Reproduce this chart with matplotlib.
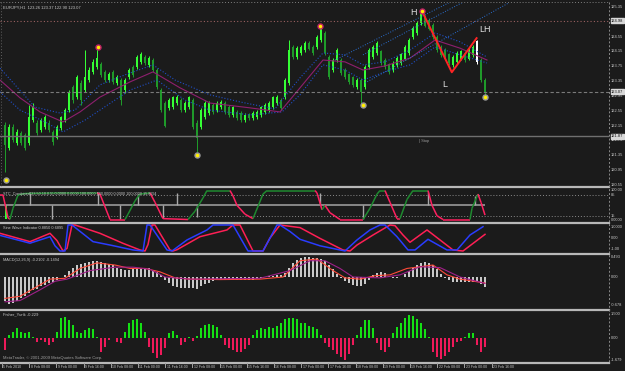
import matplotlib
matplotlib.use('Agg')
import matplotlib.pyplot as plt
import matplotlib.transforms as mtransforms
from matplotlib.lines import Line2D
from matplotlib.collections import LineCollection

plt.rcParams['font.family'] = ['Liberation Sans', 'DejaVu Sans']

# ---------------- data ----------------
O = [122.16,121.57,122.11,121.68,121.95,121.90,121.68,122.30,122.22,122.03,
     122.11,122.22,121.98,121.84,122.09,122.30,122.57,123.19,122.92,123.30,
     123.11,123.38,123.60,123.73,123.79,123.60,123.38,123.60,123.30,123.38,
     123.11,123.46,123.73,123.73,123.87,124.00,123.79,123.92,123.65,123.11,
     122.76,122.63,122.65,122.76,122.84,122.57,122.65,122.84,122.22,122.11,
     122.38,122.49,122.71,122.57,122.65,122.76,122.65,122.44,122.52,122.49,
     122.30,122.44,122.36,122.38,122.44,122.52,122.57,122.65,122.76,122.84,
     122.92,123.30,124.27,124.00,124.11,124.19,124.38,124.27,124.27,124.46,
     124.65,124.00,123.65,123.92,123.92,123.65,123.52,123.44,123.19,123.38,
     123.19,123.73,124.00,124.11,124.14,123.92,123.79,123.65,123.79,123.84,
     123.97,124.11,124.54,124.65,124.92,125.08,125.00,124.86,124.54,124.27,
     124.19,124.06,123.79,123.87,123.97,124.11,123.97,124.06,124.41,123.92,
     123.38]
C = [121.63,122.11,121.76,121.98,121.68,121.57,122.38,122.65,121.95,122.30,
     122.38,122.03,121.71,122.11,122.36,122.57,123.03,122.84,123.46,122.84,
     123.46,123.65,123.87,123.97,123.52,123.38,123.52,123.33,123.46,122.84,
     123.38,123.65,123.52,124.00,124.06,123.84,123.97,123.65,123.19,122.57,
     122.16,122.84,122.90,122.92,122.57,122.76,122.90,122.11,121.84,122.57,
     122.76,122.76,122.52,122.76,122.79,122.52,122.44,122.63,122.36,122.30,
     122.44,122.36,122.49,122.52,122.63,122.71,122.76,122.90,122.92,122.63,
     123.38,124.19,124.00,124.24,124.27,124.38,124.24,124.11,124.54,124.78,
     124.11,123.46,123.92,124.19,123.57,123.46,123.33,123.25,123.38,123.06,
     123.73,124.19,124.27,124.38,123.84,123.73,123.60,123.84,123.97,124.06,
     124.27,124.46,124.78,124.92,125.22,124.86,124.78,124.54,124.19,124.06,
     123.97,123.84,124.00,124.11,124.14,123.92,124.19,124.27,123.87,123.38,
     123.06]
H = [122.25,122.20,122.20,122.05,122.00,121.95,122.71,122.76,122.30,122.36,
     122.45,122.30,122.03,122.16,122.41,122.63,123.11,123.25,123.52,123.38,
     124.19,123.73,123.94,124.27,123.87,123.65,123.60,123.65,123.52,123.44,
     123.44,123.70,123.79,124.06,124.14,124.06,124.03,123.97,123.70,123.16,
     122.82,122.90,122.95,122.98,122.90,122.82,122.95,122.90,122.30,122.63,
     122.82,122.82,122.76,122.82,122.85,122.82,122.71,122.68,122.57,122.55,
     122.49,122.49,122.55,122.57,122.68,122.76,122.82,122.95,122.98,122.90,
     123.44,124.46,124.33,124.30,124.33,124.43,124.43,124.33,124.60,124.84,
     124.70,124.06,123.97,124.24,123.97,123.70,123.57,123.49,123.44,123.44,
     123.79,124.24,124.33,124.43,124.19,123.97,123.84,123.90,124.03,124.11,
     124.33,124.51,124.84,124.97,125.27,125.14,125.05,124.92,124.60,124.33,
     124.24,124.11,124.06,124.16,124.19,124.16,124.24,124.33,124.46,123.97,
     123.44]
L = [120.90,121.50,121.70,121.62,121.62,121.50,121.62,122.25,121.90,121.98,
     122.05,121.98,121.62,121.79,122.03,122.25,122.52,122.76,122.87,122.71,
     123.06,123.33,123.55,123.68,123.46,123.33,123.33,123.28,123.25,122.71,
     123.03,123.41,123.46,123.68,123.82,123.79,123.73,123.60,123.14,122.52,
     122.11,122.57,122.60,122.71,122.52,122.52,122.60,122.05,121.44,122.05,
     122.33,122.44,122.47,122.52,122.60,122.47,122.38,122.38,122.30,122.25,
     122.25,122.30,122.30,122.33,122.38,122.47,122.52,122.60,122.71,122.57,
     122.87,123.25,123.94,123.94,124.06,124.14,124.19,124.06,124.22,124.41,
     124.06,123.41,123.60,123.87,123.52,123.41,123.28,123.19,123.14,122.76,
     123.14,123.68,123.94,124.06,123.79,123.68,123.55,123.60,123.73,123.79,
     123.92,124.06,124.49,124.60,124.86,124.81,124.73,124.49,124.14,124.00,
     123.92,123.79,123.73,123.82,123.92,123.87,123.92,124.00,123.82,123.33,
     122.97]
highlight_bar = 118

swing_hi_t = [23.25, 78.75, 104.25]
swing_hi_p = [124.27, 124.84, 125.24]
swing_lo_t = [0.25, 48.0, 89.5, 120.0]
swing_lo_p = [120.68, 121.36, 122.72, 122.92]

zz_t = [104.25, 111.7, 117.9]
zz_p = [125.24, 123.59, 124.51]
zz_labels = ['H', 'L', 'LH']
zz_label_t = [101.2, 109.3, 118.6]
zz_label_p = [125.19, 123.27, 124.73]

ma_up_t = [-1.25,2.5,7.5,13.75,17.5,23.75,30,37,42.5,51.25,58.75,67.5,69.25,73.75,79.5,85,89.5,95,101.25,107.5,113.75,120.5]
ma_up_p = [123.70,123.25,122.65,122.49,122.57,123.25,123.52,123.79,123.38,122.98,122.79,122.60,122.84,123.44,124.11,124.06,123.79,123.87,124.19,124.65,124.41,124.00]
ma_mid_t = [-1.25,3.75,8.75,14.5,18.75,23.75,31.25,37,43.75,51.25,61.25,68.75,73.75,79.5,85,89.5,95,101.25,107.5,113.75,120.5]
ma_mid_p = [123.38,122.90,122.52,122.25,122.52,122.92,123.33,123.60,123.17,122.76,122.63,122.52,123.17,123.92,123.87,123.65,123.76,123.97,124.46,124.24,123.92]
ma_lo_t = [-1.25,3.75,10,14.5,20,23.75,31.25,38,45,51.25,61.25,69.25,73.75,79.5,85,89.5,95,101.25,107.5,113.75,120.5]
ma_lo_p = [123.06,122.57,122.25,121.98,122.30,122.57,123.11,123.38,122.84,122.57,122.44,122.52,122.98,123.79,123.65,123.38,123.60,123.79,124.27,124.06,123.84]

chan_t = [(82.5, 111.25), (89.5, 114.5), (90.0, 126.25)]
chan_p = [(123.92, 125.48), (124.06, 125.48), (123.30, 125.48)]

hline_p = [124.98, 123.07, 121.87]
price_ticks = [125.35,124.95,124.55,124.15,123.75,123.35,122.95,122.55,122.15,121.75,121.35,120.95,120.55]

stc_t = [-1.25,-0.5,0.75,1.25,2,3.25,5,13.75,23,23.75,26.25,30,30.75,32.5,33.75,36.25,37.5,39.5,45.75,47.5,
         49.5,50.5,56.25,57,58,60,62,62.75,64.5,65.5,77.5,78,79.25,80,81.25,83.75,89.5,91.25,93,93.75,
         95,96.25,98,98.75,100.5,102,105.75,106.75,108,109.5,116.25,116.75,118.25,119,120]
stc_v = [85,85,8,3,40,85,90,92,92,88,2,2,20,65,88,92,60,5,2,30,
         75,100,100,82,50,20,5,30,88,100,100,92,35,50,25,2,2,40,88,100,
         100,60,5,5,70,100,100,50,15,2,2,40,88,60,17]
spike_t = [6.25, 11.75, 23.25, 28.75, 33.25, 39.5, 43.0, 48.0, 78.75, 89.5, 105.75, 117.5]
spike_v = [95, 5, 95, 5, 88, 8, 90, 10, 92, 5, 95, 80]

sine_red_t = [-1.25,6.25,11.25,13,14.5,15.5,16.75,17.5,23.75,29.5,33.75,35,35.75,36.75,37.5,41.25,42,43,48.75,55.5,
              57,58.75,62,64.5,66.25,68.75,73.75,78.75,84.5,86.25,88,92,96.25,97.5,99.5,101.25,105.5,112,114.5,120]
sine_red_v = [0.36,-0.28,0.36,-0.2,-1.0,-0.8,1.0,1.0,0.36,-0.41,-0.92,-1.0,-0.5,1.0,1.0,-0.92,-1.0,-0.9,0.1,0.62,
              1.0,1.0,-1.0,-1.0,0.0,1.0,0.8,-0.03,-0.92,-1.0,-0.54,0.23,1.0,0.95,0.23,-0.33,0.62,-0.92,-1.0,0.28]
sine_blue_t = [-1.25,6.25,11.25,12.5,13.75,15,15.75,16.75,22,26.25,32,34.5,35.5,36.25,40.5,41.75,45.5,50.5,52,57,
               60.75,64.5,68,68.75,71.25,73.75,78.75,83.75,85,88,91.25,93.75,95,98,100.75,102.5,105.75,110.5,113,116.25,119.5]
sine_blue_v = [0.2,-0.4,0.1,-0.6,-1.0,-1.0,1.0,1.0,-0.28,-0.54,-0.92,-1.0,1.0,1.0,-0.92,-1.0,-0.15,0.62,1.0,1.0,
               -1.0,-1.0,1.0,1.0,0.5,-0.1,-0.6,-0.92,-1.0,-0.15,0.62,1.0,1.0,0.1,-0.92,-0.92,-0.1,-0.92,-0.92,0.23,0.87]

macd_hist = [-0.55,-0.62,-0.60,-0.55,-0.50,-0.45,-0.38,-0.30,-0.27,-0.22,
             -0.18,-0.15,-0.12,-0.06,0.00,0.05,0.15,0.22,0.28,0.30,
             0.33,0.36,0.38,0.38,0.36,0.33,0.30,0.27,0.22,0.18,
             0.16,0.17,0.19,0.20,0.21,0.21,0.20,0.17,0.12,0.04,
             -0.08,-0.15,-0.20,-0.24,-0.25,-0.25,-0.25,-0.25,-0.27,-0.22,
             -0.17,-0.13,-0.10,-0.08,-0.06,-0.05,-0.05,-0.06,-0.07,-0.08,
             -0.08,-0.08,-0.07,-0.05,-0.03,0.01,0.02,0.03,0.04,0.05,
             0.10,0.22,0.32,0.40,0.44,0.46,0.46,0.45,0.44,0.43,
             0.38,0.28,0.18,0.08,-0.02,-0.10,-0.15,-0.18,-0.20,-0.21,
             -0.17,-0.08,0.04,0.10,0.12,0.09,0.03,-0.02,-0.03,0.01,
             0.08,0.15,0.22,0.28,0.33,0.34,0.33,0.28,0.18,0.08,
             -0.02,-0.08,-0.11,-0.12,-0.12,-0.12,-0.12,-0.11,-0.12,-0.17,
             -0.24]
macd_sig_t = [0,3.75,7.5,11.25,15,18.75,23,27.5,31.25,35,38.75,42.5,46.25,53.75,63.75,69.5,73.75,78,82,85,
              88.75,92.5,96.25,100.5,107,110.5,113.75,120]
macd_sig_v = [-0.50,-0.45,-0.25,-0.05,-0.03,0.20,0.33,0.28,0.20,0.20,0.12,-0.02,-0.05,-0.06,-0.05,0.0,0.38,0.42,0.15,-0.02,
              -0.05,0.03,0.05,0.20,0.28,0.05,-0.05,-0.14]
macd_slow_t = [0,3.75,8.75,12.5,15.5,21.25,27.5,32,36.25,40,46.25,63.75,71.25,76.25,80,83.75,87,93.75,98.75,103.75,108.75,113.75,120]
macd_slow_v = [-0.58,-0.55,-0.30,-0.10,-0.05,0.15,0.23,0.23,0.18,0.0,-0.05,-0.03,0.15,0.38,0.38,0.20,0.0,-0.02,0.05,0.24,0.22,0.0,-0.15]

fisher = [-0.69,0.2,0.4,0.6,0.4,0.3,0.4,0.1,-0.2,-0.1,
          -0.2,-0.4,-0.2,0.4,1.19,1.29,1.09,0.79,0.4,0.34,
          0.5,0.6,0.54,0.1,-0.79,-0.5,-0.1,0.04,-0.2,-0.26,
          0.4,0.89,1.09,1.13,0.89,0.4,-0.5,-0.89,-1.19,-0.99,
          -0.6,0.3,0.44,0.2,-0.4,-0.2,0.1,-0.14,0.14,0.6,
          0.79,0.83,0.79,0.65,0.2,-0.4,-0.6,-0.69,-0.79,-0.79,
          -0.65,-0.4,0.2,0.5,0.6,0.54,0.65,0.6,0.73,0.93,
          1.13,1.19,1.19,1.13,0.93,0.89,0.73,0.65,0.54,0.2,
          -0.26,-0.54,-0.69,-0.93,-1.13,-1.29,-0.93,-0.4,0.2,0.69,
          1.09,1.09,0.6,-0.3,-0.69,-0.79,-0.5,0.3,0.69,0.89,
          1.19,1.39,1.33,1.13,0.89,0.54,0.1,-0.79,-1.09,-1.25,
          -1.05,-0.79,-0.5,-0.2,-0.14,0.1,0.3,0.3,-0.4,-0.79,
          -0.5]

time_labels = ["5 Feb 2010", "8 Feb 08:00", "9 Feb 00:00", "9 Feb 16:00", "10 Feb 08:00",
               "11 Feb 00:00", "11 Feb 16:00", "12 Feb 08:00", "15 Feb 00:00", "15 Feb 16:00",
               "16 Feb 08:00", "17 Feb 00:00", "17 Feb 16:00", "18 Feb 08:00", "19 Feb 00:00",
               "19 Feb 16:00", "22 Feb 08:00", "23 Feb 00:00", "23 Feb 16:00"]

# ---------------- drawing ----------------
W, Hpx = 625, 371
fig = plt.figure(figsize=(6.25, 3.71), dpi=100)
BG = '#1b1b1b'
fig.patch.set_facecolor(BG)
TXT = '#c8c8c8'
FS = 3.0
PX = 0.72  # one pixel in points
RIGHT = 609

def ax_at(y0, y1, ylim):
    ax = fig.add_axes([0, 1 - y1 / Hpx, RIGHT / W, (y1 - y0) / Hpx])
    ax.set_facecolor(BG)
    for s in ax.spines.values():
        s.set_visible(False)
    ax.set_xticks([]); ax.set_yticks([])
    ax.set_xlim(-1.25, 151)
    ax.set_ylim(*ylim)
    return ax

def rlabel(ax, v, s, box=False):
    tr = mtransforms.blended_transform_factory(fig.transFigure, ax.transData)
    kw = dict(transform=tr, fontsize=2.9, va='center', ha='left', color=TXT, clip_on=False)
    if box:
        kw.update(color='#111111', bbox=dict(boxstyle='square,pad=0.12', fc='#d8d8d8', ec='#d8d8d8'))
    ax.text(611 / W, v, s, **kw)

def figline(x0, y0, x1, y1, **kw):
    fig.add_artist(Line2D([x0 / W, x1 / W], [1 - y0 / Hpx, 1 - y1 / Hpx], **kw))

# main
axm = ax_at(3, 186, (120.522, 125.458))
n = len(C)
for i in range(n):
    up = C[i] >= O[i]
    col = '#35ff35' if up else '#1f9a2a'
    if i == highlight_bar:
        col = '#ffffff'
    axm.vlines(i, L[i], H[i], color=col, lw=PX)
    axm.bar(i, abs(C[i] - O[i]) + 0.02, bottom=min(O[i], C[i]) - 0.01, width=0.65, color=col, lw=0)

for tt, pp, c, ls in [(ma_up_t, ma_up_p, '#1f4fc8', ':'), (ma_lo_t, ma_lo_p, '#1f4fc8', ':'),
                      (ma_mid_t, ma_mid_p, '#8e1f6e', '-')]:
    axm.plot(tt, pp, color=c, lw=0.8, ls=ls)
for tt, pp in zip(chan_t, chan_p):
    axm.plot(tt, pp, color='#2a6fd0', lw=0.7, ls=':')

axm.axhline(hline_p[0], color='#9a6060', lw=0.8, ls=(0, (1, 2)))
axm.axhline(hline_p[1], color='#7a7a7a', lw=0.8, ls=(0, (3, 2)))
axm.axhline(hline_p[2], color='#707070', lw=1.0)

axm.plot(zz_t, zz_p, color='#ff2424', lw=1.4)
axm.plot(swing_hi_t, swing_hi_p, 'o', ms=3.6, mfc='#ffee00', mec='#c0206a', mew=1.0, ls='none')
axm.plot(swing_lo_t, swing_lo_p, 'o', ms=3.6, mfc='#ffee00', mec='#9a9a9a', mew=1.0, ls='none')
for s, t, p in zip(zz_labels, zz_label_t, zz_label_p):
    axm.text(t, p, s, color='#e0e0e0', fontsize=6.5, ha='left', va='center')
axm.text(0.005, 0.985, 'EURJPY,H1  123.26 123.37 122.90 123.07', transform=axm.transAxes,
         color=TXT, fontsize=FS, va='top', ha='left')
axm.text(103.5, 121.80, '| Stop', color='#9a9a9a', fontsize=2.8, va='top', ha='left')

for p in price_ticks:
    if abs(p - hline_p[0]) > 0.1:
        rlabel(axm, p, f'{p:.2f}')
for p in hline_p:
    rlabel(axm, p, f'{p:.2f}', box=True)

# STC panel
axs = ax_at(188.5, 221.5, (-4.7, 106.9))
axs.axhline(85, color='#8a8a8a', lw=0.7, ls=(0, (1, 2)))
axs.axhline(15, color='#8a8a8a', lw=0.7, ls=(0, (1, 2)))
axs.hlines(51, -1.25, 120, color='#9a9a9a', lw=1.2)
axs.vlines(spike_t, 51, spike_v, color='#a8a8a8', lw=1.0)
axs.bar(0.25, 47, bottom=4, width=0.7, color='#33ff33', lw=0)
cols = []
cur = '#ff2060'
for a, b in zip(stc_v[:-1], stc_v[1:]):
    if b > a:
        cur = '#1f8a30'
    elif b < a:
        cur = '#ff2060'
    cols.append(cur)
segs = [[(stc_t[k], stc_v[k]), (stc_t[k + 1], stc_v[k + 1])] for k in range(len(stc_t) - 1)]
axs.add_collection(LineCollection(segs, colors=cols, linewidths=1.1))
axs.text(0.005, 0.90, 'STC_Combined(23,50,10,0.5) 0.0000 0.0000 100.0000 100.0000 0.0000 100.0000 15.8994',
         transform=axs.transAxes, color=TXT, fontsize=2.7, va='top')
rlabel(axs, 101, '100.00')
rlabel(axs, 85, '85')
rlabel(axs, 15, '15')
rlabel(axs, 1, '0.0000')

# Sine wave panel
axw = ax_at(224, 252, (-1.077, 1.077))
axw.plot(sine_red_t, sine_red_v, color='#ff1f55', lw=1.1)
axw.plot(sine_blue_t, sine_blue_v, color='#2a3cff', lw=1.1)
axw.text(0.005, 0.93, 'Sine Wave Indicator 0.8850 0.6895', transform=axw.transAxes,
         color=TXT, fontsize=2.8, va='top')
rlabel(axw, 0.85, '1.0000')
rlabel(axw, 0.0, '0.00')
rlabel(axw, -0.88, '-1.00')

# MACD panel
axc = ax_at(255, 308, (-0.724, 0.514))
axc.bar(range(len(macd_hist)), macd_hist, width=0.62, color='#c8c8c8', lw=0)
axc.plot(macd_sig_t, macd_sig_v, color='#ff4a3a', lw=0.8)
axc.plot(macd_slow_t, macd_slow_v, color='#a0208a', lw=0.8)
axc.text(0.005, 0.95, 'MACD(12,26,9) -0.2102 -0.1494', transform=axc.transAxes,
         color=TXT, fontsize=2.8, va='top')
rlabel(axc, 0.46, '0.493')
rlabel(axc, 0.0, '0.00')
rlabel(axc, -0.66, '-0.678')

# Fisher panel
axf = ax_at(311, 362, (-1.411, 1.625))
fcols = ['#14e014' if v >= 0 else '#ee1a5a' for v in fisher]
axf.bar(range(len(fisher)), fisher, width=0.62, color=fcols, lw=0)
axf.text(0.005, 0.97, 'Fisher_Yurik -0.229', transform=axf.transAxes,
         color=TXT, fontsize=FS, va='top')
axf.text(0.005, 0.03, 'MetaTrader, \u00a9 2001-2009 MetaQuotes Software Corp.', transform=axf.transAxes,
         color='#a0a0a0', fontsize=FS, va='bottom')
rlabel(axf, 1.45, '1.500')
rlabel(axf, 0.0, '0.00')
rlabel(axf, -1.32, '-1.679')

# separators and borders
for y in [187.0, 222.8, 253.5, 309.5, 362.8]:
    figline(0, y, RIGHT, y, color='#b8b8b8', lw=1.6)
figline(0, 2, RIGHT, 2, color='#808080', lw=0.7, ls=(0, (1, 2)))
figline(RIGHT, 2, RIGHT, 363, color='#8a8a8a', lw=0.7, ls=(0, (2, 2)))
figline(1, 2, 1, 186, color='#606060', lw=0.7, ls=(0, (1, 2)))

# time axis
trt = mtransforms.blended_transform_factory(axf.transData, fig.transFigure)
for k, s in enumerate(time_labels):
    t = -0.75 + 6.8 * k
    fig.add_artist(Line2D([t, t], [1 - 363 / Hpx, 1 - 367 / Hpx], transform=trt, color='#a0a0a0', lw=0.7))
    fig.text(t + 0.35, 1 - 367 / Hpx, s, transform=trt, color=TXT, fontsize=2.5, va='center', ha='left')

fig.savefig('out.png', dpi=100, facecolor=BG)
